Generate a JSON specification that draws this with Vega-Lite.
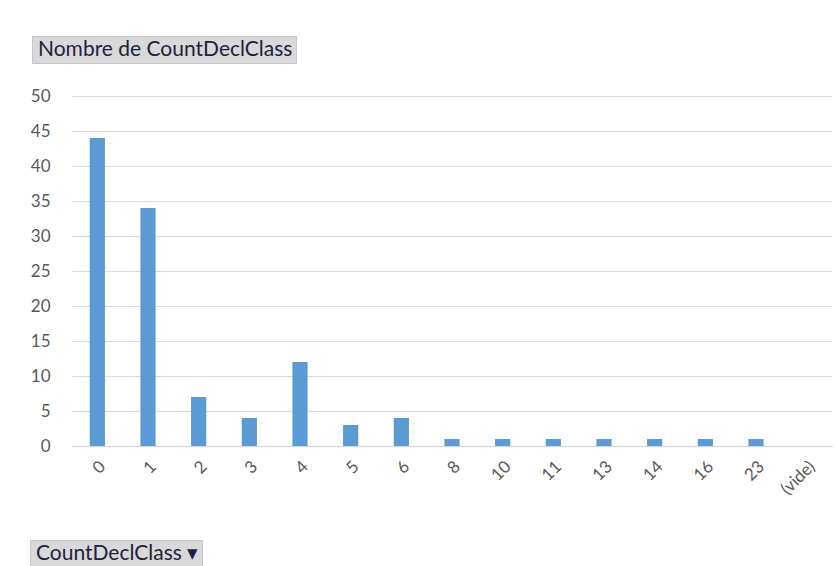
{
  "$schema": "https://vega.github.io/schema/vega-lite/v6.json",
  "autosize": "none",
  "width": 760,
  "height": 350,
  "padding": {"left": 72, "top": 96, "right": 5, "bottom": 120},
  "background": "white",
  "config": {
    "font": "Lato",
    "view": {"stroke": null}
  },
  "data": {
    "values": [
      {"CountDeclClass": "0", "n": 44, "measure": "Nombre de CountDeclClass", "field": "CountDeclClass ▾"},
      {"CountDeclClass": "1", "n": 34, "measure": "Nombre de CountDeclClass", "field": "CountDeclClass ▾"},
      {"CountDeclClass": "2", "n": 7, "measure": "Nombre de CountDeclClass", "field": "CountDeclClass ▾"},
      {"CountDeclClass": "3", "n": 4, "measure": "Nombre de CountDeclClass", "field": "CountDeclClass ▾"},
      {"CountDeclClass": "4", "n": 12, "measure": "Nombre de CountDeclClass", "field": "CountDeclClass ▾"},
      {"CountDeclClass": "5", "n": 3, "measure": "Nombre de CountDeclClass", "field": "CountDeclClass ▾"},
      {"CountDeclClass": "6", "n": 4, "measure": "Nombre de CountDeclClass", "field": "CountDeclClass ▾"},
      {"CountDeclClass": "8", "n": 1, "measure": "Nombre de CountDeclClass", "field": "CountDeclClass ▾"},
      {"CountDeclClass": "10", "n": 1, "measure": "Nombre de CountDeclClass", "field": "CountDeclClass ▾"},
      {"CountDeclClass": "11", "n": 1, "measure": "Nombre de CountDeclClass", "field": "CountDeclClass ▾"},
      {"CountDeclClass": "13", "n": 1, "measure": "Nombre de CountDeclClass", "field": "CountDeclClass ▾"},
      {"CountDeclClass": "14", "n": 1, "measure": "Nombre de CountDeclClass", "field": "CountDeclClass ▾"},
      {"CountDeclClass": "16", "n": 1, "measure": "Nombre de CountDeclClass", "field": "CountDeclClass ▾"},
      {"CountDeclClass": "23", "n": 1, "measure": "Nombre de CountDeclClass", "field": "CountDeclClass ▾"},
      {"CountDeclClass": "(vide)", "n": 0, "measure": "Nombre de CountDeclClass", "field": "CountDeclClass ▾"}
    ]
  },
  "mark": {"type": "bar"},
  "encoding": {
    "x": {
      "field": "CountDeclClass",
      "type": "nominal",
      "sort": null,
      "scale": {"paddingInner": 0.7, "paddingOuter": 0.35},
      "axis": {
        "title": null,
        "labelAngle": -45,
        "labelFontSize": 17,
        "labelColor": "#595959",
        "labelPadding": 12,
        "ticks": false,
        "domainColor": "#d9d9d9",
        "domainWidth": 1.5
      }
    },
    "y": {
      "field": "n",
      "type": "quantitative",
      "scale": {"domain": [0, 50], "nice": false},
      "axis": {
        "title": null,
        "values": [0, 5, 10, 15, 20, 25, 30, 35, 40, 45, 50],
        "labelFontSize": 17,
        "labelColor": "#595959",
        "labelPadding": 22,
        "ticks": false,
        "domain": false,
        "gridColor": "#d9d9d9",
        "gridWidth": 1.2
      }
    },
    "color": {
      "field": "measure",
      "type": "nominal",
      "scale": {"range": ["#5b9bd5"]},
      "legend": {
        "title": null,
        "orient": "none",
        "legendX": -40,
        "legendY": -60,
        "fillColor": "#d9d9d9",
        "strokeColor": "#c6c6c6",
        "padding": 3,
        "symbolSize": 0,
        "symbolStrokeWidth": 0,
        "labelOffset": -18,
        "labelFontSize": 21,
        "labelColor": "#1f1f3f",
        "labelLimit": 400
      }
    },
    "opacity": {
      "field": "field",
      "type": "nominal",
      "scale": {"range": [1]},
      "legend": {
        "title": null,
        "orient": "none",
        "legendX": -42,
        "legendY": 444,
        "fillColor": "#d9d9d9",
        "strokeColor": "#c6c6c6",
        "padding": 3,
        "symbolSize": 0,
        "symbolStrokeWidth": 0,
        "labelOffset": -18,
        "labelFontSize": 21,
        "labelColor": "#1f1f3f",
        "labelLimit": 400
      }
    }
  }
}
